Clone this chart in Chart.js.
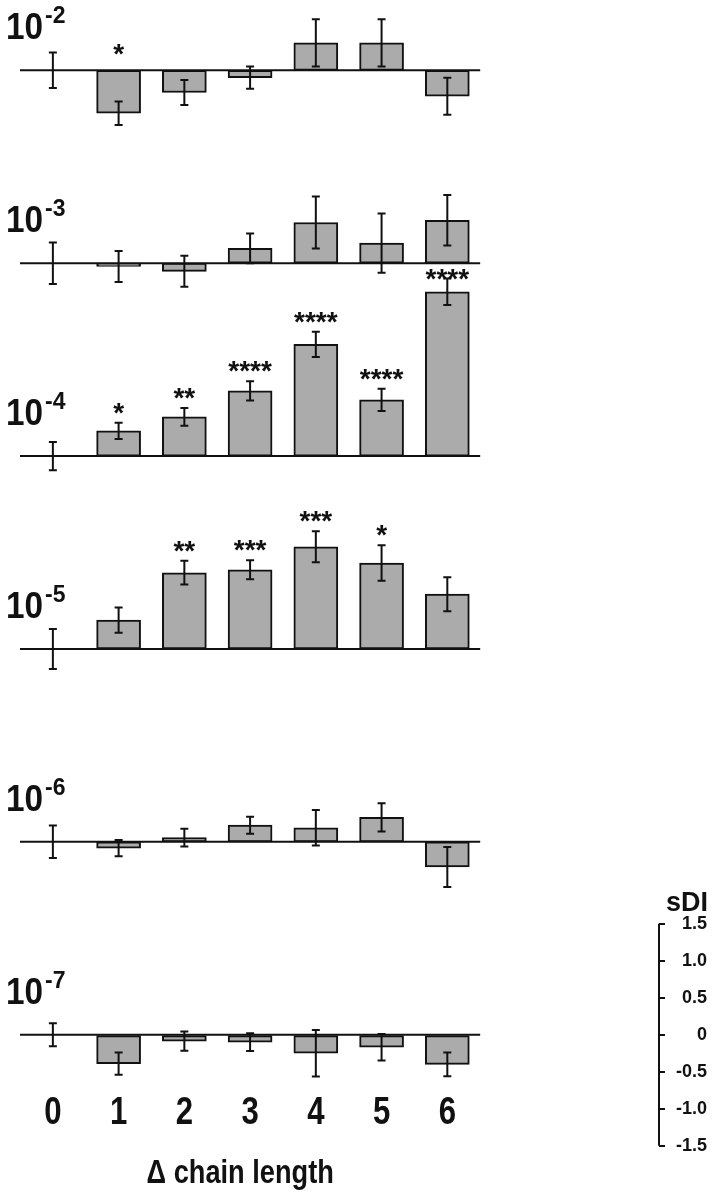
<!DOCTYPE html>
<html>
<head>
<meta charset="utf-8">
<script src="https://cdn.jsdelivr.net/npm/chart.js@4.4.1/dist/chart.umd.min.js"></script>
<style>
  html, body { margin: 0; padding: 0; background: #fff; }
  canvas { display: block; }
</style>
</head>
<body>
<canvas id="sdi" width="716" height="1199"></canvas>
<script>
// x categories: difference in chain length
const chainLength = [0, 1, 2, 3, 4, 5, 6];

// concentration of each panel, top to bottom (10^exp)
const concExponents = ['-2', '-3', '-4', '-5', '-6', '-7'];

// mean sDI per panel
const sdi_1e2 = [0, -0.58, -0.30, -0.10, 0.37, 0.37, -0.35];
const sdi_1e3 = [0, -0.045, -0.11, 0.20, 0.55, 0.27, 0.58];
const sdi_1e4 = [0, 0.34, 0.53, 0.88, 1.51, 0.76, 2.22];
const sdi_1e5 = [0, 0.39, 1.03, 1.07, 1.38, 1.16, 0.74];
const sdi_1e6 = [0, -0.086, 0.058, 0.225, 0.19, 0.33, -0.34];
const sdi_1e7 = [0, -0.39, -0.086, -0.10, -0.25, -0.17, -0.40];

// error (+/-) per panel
const err_1e2 = [0.24, 0.16, 0.17, 0.15, 0.32, 0.32, 0.25];
const err_1e3 = [0.28, 0.21, 0.21, 0.20, 0.35, 0.40, 0.34];
const err_1e4 = [0.19, 0.11, 0.12, 0.13, 0.17, 0.15, 0.18];
const err_1e5 = [0.27, 0.17, 0.16, 0.13, 0.21, 0.24, 0.23];
const err_1e6 = [0.22, 0.11, 0.12, 0.115, 0.24, 0.19, 0.27];
const err_1e7 = [0.155, 0.15, 0.13, 0.12, 0.315, 0.18, 0.16];

// significance marks
const sig_1e2 = ['', '*', '', '', '', '', ''];
const sig_1e3 = ['', '', '', '', '', '', ''];
const sig_1e4 = ['', '*', '**', '****', '****', '****', '****'];
const sig_1e5 = ['', '', '**', '***', '***', '*', ''];
const sig_1e6 = ['', '', '', '', '', '', ''];
const sig_1e7 = ['', '', '', '', '', '', ''];

// right axis (sDI scale of one panel)
const sdiTicks = [-1.5, -1, -0.5, 0, 0.5, 1, 1.5];
const sdiTickLabels = ['-1.5', '-1.0', '-0.5', '0', '0.5', '1.0', '1.5'];

const xTitle = '\u0394 chain length';
const yTitle = 'sDI';

const means = [sdi_1e2, sdi_1e3, sdi_1e4, sdi_1e5, sdi_1e6, sdi_1e7];
const errors = [err_1e2, err_1e3, err_1e4, err_1e5, err_1e6, err_1e7];
const sigs = [sig_1e2, sig_1e3, sig_1e4, sig_1e5, sig_1e6, sig_1e7];

// panels are stacked on one value axis, bottom panel sits at 0
const PANEL_STEP = 2.606;
const panelOffset = p => (means.length - 1 - p) * PANEL_STEP;

const SANS = '"Liberation Sans", Arial, sans-serif';
const INK = '#111';

// the original lettering is condensed, squeeze it horizontally
function condensed(ctx, text, x, y, size, squeeze, align) {
    ctx.save();
    ctx.font = 'bold ' + size + 'px ' + SANS;
    ctx.textAlign = align;
    ctx.textBaseline = 'alphabetic';
    ctx.translate(x, y);
    ctx.scale(squeeze, 1);
    ctx.fillText(text, 0, 0);
    const w = ctx.measureText(text).width * squeeze;
    ctx.restore();
    return w;
}

const datasets = means.map((vals, p) => ({
    type: 'bar',
    label: '10' + concExponents[p],
    data: chainLength.map((c, i) => ({ x: c, y: [panelOffset(p), panelOffset(p) + vals[i]] })),
    backgroundColor: '#ababab',
    borderColor: INK,
    borderWidth: 2,
    borderSkipped: false,
    barThickness: 44,
    grouped: false
}));

const panelPlugin = {
    id: 'panels',
    afterDatasetsDraw(chart) {
        const { ctx, chartArea } = chart;
        const x = chart.scales.x, y = chart.scales.y;
        ctx.save();
        ctx.strokeStyle = INK;
        ctx.fillStyle = INK;
        means.forEach((vals, p) => {
            const off = panelOffset(p);
            const base = y.getPixelForValue(off);

            // baseline
            ctx.lineWidth = 2;
            ctx.beginPath();
            ctx.moveTo(x.getPixelForValue(-0.5), base);
            ctx.lineTo(x.getPixelForValue(6.5), base);
            ctx.stroke();

            // error bars + stars
            vals.forEach((v, i) => {
                const e = errors[p][i];
                const cx = x.getPixelForValue(chainLength[i]);
                const top = y.getPixelForValue(off + v + e);
                const bot = y.getPixelForValue(off + v - e);
                ctx.lineWidth = 2;
                ctx.beginPath();
                ctx.moveTo(cx, top); ctx.lineTo(cx, bot);
                ctx.moveTo(cx - 4, top); ctx.lineTo(cx + 4, top);
                ctx.moveTo(cx - 4, bot); ctx.lineTo(cx + 4, bot);
                ctx.stroke();

                const s = sigs[p][i];
                if (s) {
                    const lvl = Math.min(Math.max(v + e, 0.09) + 0.23, PANEL_STEP - 0.12);
                    ctx.font = 'bold 28px ' + SANS;
                    ctx.textAlign = 'center';
                    ctx.textBaseline = 'alphabetic';
                    ctx.fillText(s, cx, y.getPixelForValue(off + lvl) + 16);
                }
            });

            // 10^-n label
            const w = condensed(ctx, '10', 6, base - 31, 37, 0.9, 'left');
            condensed(ctx, concExponents[p], 6 + w + 2, base - 47, 23, 1, 'left');
        });

        // category labels under the bottom panel
        chainLength.forEach(c => {
            condensed(ctx, String(c), x.getPixelForValue(c), y.getPixelForValue(-1.21), 38, 0.82, 'center');
        });

        // sDI axis line, only over the labelled range
        const xr = chartArea.right;
        ctx.lineWidth = 2;
        ctx.beginPath();
        ctx.moveTo(xr, y.getPixelForValue(sdiTicks[sdiTicks.length - 1]));
        ctx.lineTo(xr, y.getPixelForValue(sdiTicks[0]));
        ctx.stroke();

        ctx.textAlign = 'center';
        ctx.textBaseline = 'alphabetic';
        ctx.font = 'bold 27px ' + SANS;
        ctx.fillText(yTitle, xr + 28, y.getPixelForValue(sdiTicks[sdiTicks.length - 1]) - 13);

        condensed(ctx, xTitle, x.getPixelForValue(2.85), chart.height - 16, 34, 0.8, 'center');
        ctx.restore();
    }
};

new Chart(document.getElementById('sdi'), {
    data: { datasets: datasets },
    options: {
        responsive: false,
        animation: false,
        layout: { padding: { left: 20, right: 9, top: 0, bottom: 0 } },
        plugins: { legend: { display: false }, tooltip: { enabled: false } },
        scales: {
            x: {
                type: 'linear',
                min: -0.5,
                max: 9.22,
                offset: false,
                display: false
            },
            y: {
                type: 'linear',
                position: 'right',
                min: -2.22,
                max: 13.98,
                afterFit: scale => {
                    scale.width = 48;
                    scale.paddingTop = 0;
                    scale.paddingBottom = 0;
                },
                afterBuildTicks: scale => { scale.ticks = sdiTicks.map(v => ({ value: v })); },
                grid: { drawOnChartArea: false, drawTicks: true, tickLength: 6, color: INK, lineWidth: 2 },
                border: { display: false },
                ticks: {
                    crossAlign: 'far',
                    color: INK,
                    font: { family: SANS, size: 18, weight: 'bold' },
                    callback: v => sdiTickLabels[sdiTicks.indexOf(v)]
                }
            }
        }
    },
    plugins: [panelPlugin]
});
</script>
</body>
</html>
